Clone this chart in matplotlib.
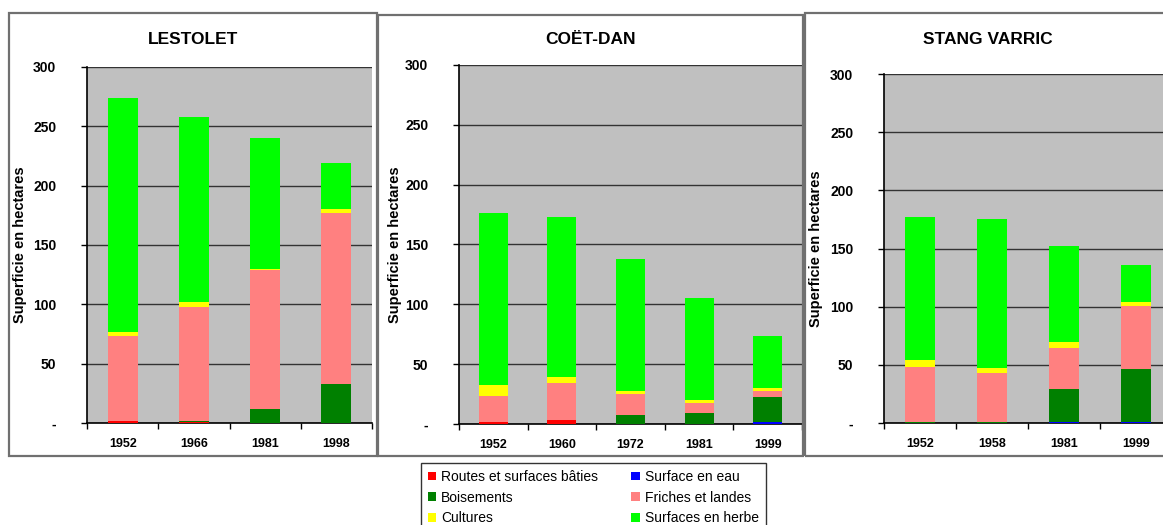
import matplotlib.pyplot as plt
from matplotlib.patches import Patch, Rectangle
import numpy as np

plt.rcParams['font.family'] = ['Liberation Sans', 'DejaVu Sans']

W, H = 1163, 525

CATEGORIES = ["Routes et surfaces bâties", "Surface en eau", "Boisements",
              "Friches et landes", "Cultures", "Surfaces en herbe"]
COLORS = ["#ff0000", "#0000ff", "#008000", "#ff8080", "#ffff00", "#00ff00"]
Y_TICKS = [0, 50, 100, 150, 200, 250, 300]
Y_TICK_LABELS = ["-", "50", "100", "150", "200", "250", "300"]

# LESTOLET
lestolet_years = ["1952", "1966", "1981", "1998"]
lestolet_routes = [1.5, 1, 0, 0]
lestolet_eau = [0, 0, 0, 0]
lestolet_bois = [0, 0.5, 12, 32.5]
lestolet_friches = [71.5, 96.5, 117, 144.5]
lestolet_cultures = [3.5, 4, 1, 3]
lestolet_herbe = [197, 156, 110, 39]

# COËT-DAN
coetdan_years = ["1952", "1960", "1972", "1981", "1999"]
coetdan_routes = [2, 3, 0, 0, 0]
coetdan_eau = [0, 0, 0, 0, 1.5]
coetdan_bois = [0, 0, 7.5, 9, 21]
coetdan_friches = [21.5, 31, 17.5, 8.5, 5]
coetdan_cultures = [9, 5, 2.5, 2.5, 2.5]
coetdan_herbe = [143.5, 134, 110.5, 85, 43.5]

# STANG VARRIC
stang_years = ["1952", "1958", "1981", "1999"]
stang_routes = [0, 0, 0, 0]
stang_eau = [0, 0, 1, 1]
stang_bois = [1, 1, 28, 45]
stang_friches = [47, 42, 35.5, 54.5]
stang_cultures = [6, 4, 5, 3.5]
stang_herbe = [123, 128, 82.5, 32]


def px_rect(left, top, right, bottom):
    """Convert pixel box (top-left origin) to figure fraction [x, y, w, h]."""
    return [left / W, 1 - bottom / H, (right - left) / W, (bottom - top) / H]


def draw_panel(fig, box, frame, title, title_x, years, series, ylabel_x):
    # outer frame of the chart
    fl, ft, fr, fb = frame
    fig.add_artist(Rectangle((fl / W, 1 - fb / H), (fr - fl) / W, (fb - ft) / H,
                             transform=fig.transFigure, fill=False,
                             edgecolor="#707070", linewidth=1.6))

    ax = fig.add_axes(px_rect(*box))
    ax.set_facecolor("#c0c0c0")
    x = np.arange(len(years))
    bottom = np.zeros(len(years))
    for values, color in zip(series, COLORS):
        ax.bar(x, values, width=0.42, bottom=bottom, color=color, zorder=3)
        bottom += np.array(values)

    ax.set_xlim(-0.5, len(years) - 0.5)
    ax.set_ylim(0, 300)
    ax.set_yticks(Y_TICKS)
    ax.set_yticklabels(Y_TICK_LABELS, fontsize=10, fontweight="bold")
    ax.tick_params(axis="y", length=4, pad=18, width=1)
    ax.yaxis.grid(True, color="#333333", linewidth=1)
    ax.set_axisbelow(True)

    # category boundary ticks, labels at centres
    ax.set_xticks(np.arange(len(years) + 1) - 0.5)
    ax.set_xticklabels([])
    ax.tick_params(axis="x", which="major", length=4, width=1)
    ax.set_xticks(x, minor=True)
    ax.set_xticklabels(years, minor=True, fontsize=9, fontweight="bold")
    ax.tick_params(axis="x", which="minor", length=0, pad=11)

    for side in ["right", "top"]:
        ax.spines[side].set_visible(False)
    ax.spines["left"].set_linewidth(1.2)
    ax.spines["bottom"].set_linewidth(1.2)

    fig.text(title_x / W, 1 - 39 / H, title, ha="center", va="center",
             fontsize=12.5, fontweight="bold")
    fig.text(ylabel_x / W, 1 - ((box[1] + box[3]) / 2) / H,
             "Superficie en hectares", rotation=90, ha="center", va="center",
             fontsize=10.5, fontweight="bold")
    return ax


fig = plt.figure(figsize=(W / 100, H / 100), dpi=100)

draw_panel(fig, (87, 67, 372, 423), (9, 13, 377, 456), "LESTOLET", 193, lestolet_years,
           [lestolet_routes, lestolet_eau, lestolet_bois, lestolet_friches,
            lestolet_cultures, lestolet_herbe], 20)
draw_panel(fig, (459, 65, 802, 424), (378, 15, 803, 456), "COËT-DAN", 591, coetdan_years,
           [coetdan_routes, coetdan_eau, coetdan_bois, coetdan_friches,
            coetdan_cultures, coetdan_herbe], 395)
draw_panel(fig, (884, 74, 1172, 423), (805, 13, 1175, 456), "STANG VARRIC", 988, stang_years,
           [stang_routes, stang_eau, stang_bois, stang_friches,
            stang_cultures, stang_herbe], 816)

# legend, filled column by column: left column then right column
order = [0, 2, 4, 1, 3, 5]
handles = [Patch(facecolor=COLORS[i], edgecolor="none") for i in order]
labels = [CATEGORIES[i] for i in order]
leg = fig.legend(handles, labels, loc="upper left", bbox_to_anchor=(421 / W, 1 - 463 / H),
                 ncol=2, fontsize=10, frameon=True, fancybox=False, shadow=False,
                 handlelength=0.6, handleheight=0.6, handletextpad=0.35,
                 columnspacing=2.4, labelspacing=0.48, borderpad=0.5, borderaxespad=0)
leg.get_frame().set_edgecolor("black")
leg.get_frame().set_linewidth(1)

fig.savefig("out.png", dpi=100)
